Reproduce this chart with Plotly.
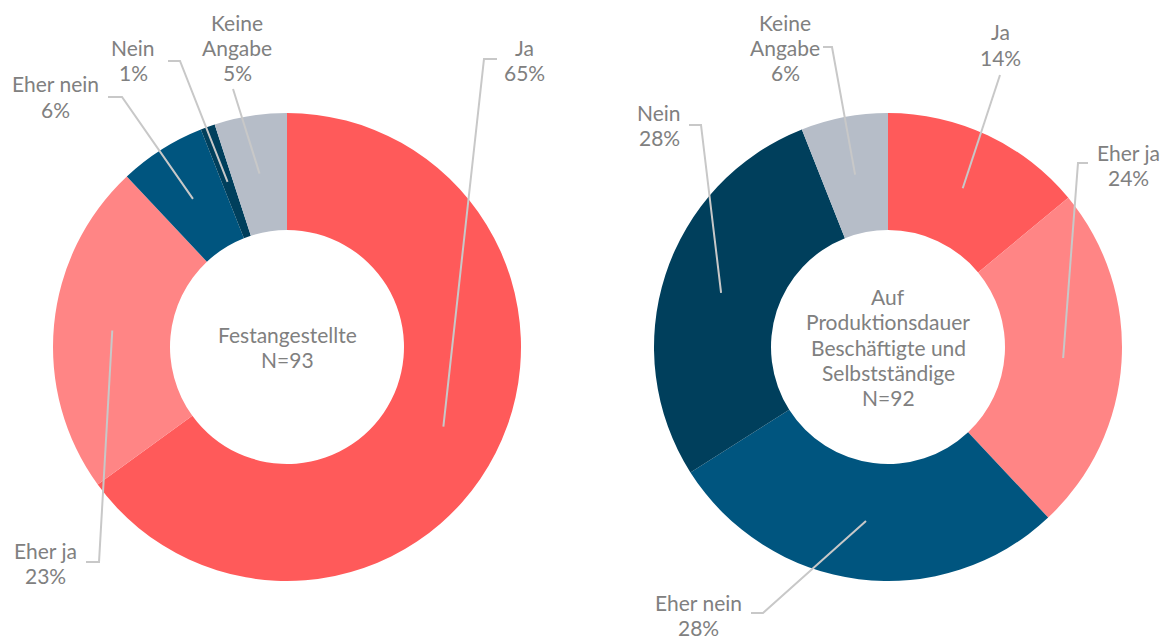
import math
import plotly.graph_objects as go

W, H = 1166, 637

# Answer categories (clockwise from 12 o'clock)
categories = ["Ja", "Eher ja", "Eher nein", "Nein", "Keine Angabe"]
label_lines = [["Ja"], ["Eher ja"], ["Eher nein"], ["Nein"], ["Keine", "Angabe"]]

# Shares in percent
festangestellte = [65, 23, 6, 1, 5]
produktionsdauer = [14, 24, 28, 28, 6]

center_titles = [
    ["Festangestellte", "N=93"],
    ["Auf", "Produktionsdauer", "Beschäftigte und", "Selbstständige", "N=92"],
]

colors = ["#FF5A5A", "#FF8585", "#00557F", "#003F5C", "#B6BDC8"]
text_color = "#808080"
line_color = "#C8C8C8"
FONT = "Lato, 'Open Sans', sans-serif"
FONT_SIZE = 21
LINE_H = 25.3

# Donut geometry in pixels: centre x, centre y, outer radius
donuts = [
    dict(cx=287, cy=347, r=234, values=festangestellte),
    dict(cx=888, cy=347, r=234, values=produktionsdauer),
]

# Label placement per donut and slice: (label centre x, first line y, elbow points)
label_layout = [
    [
        (524, 47, [(484, 59), (497, 59)]),
        (45, 550, [(99, 562), (86, 562)]),
        (55, 84, [(122, 97), (108, 97)]),
        (133, 47, [(180, 61), (168, 61)]),
        (237, 22, [(233, 89)]),
    ],
    [
        (1000, 32, [(1000, 75)]),
        (1128, 152, [(1078, 163), (1088, 163)]),
        (698, 602, [(763, 613), (751, 613)]),
        (659, 112, [(701, 125), (689, 125)]),
        (785, 22, [(832, 47), (823, 47)]),
    ],
]


def px(x, y):
    return x / W, 1 - y / H


def text_block(lines, cx, first_y):
    out = []
    for i, line in enumerate(lines):
        ax, ay = px(cx, first_y + i * LINE_H)
        out.append(dict(
            x=ax, y=ay, xref="paper", yref="paper", text=line,
            showarrow=False, xanchor="center", yanchor="middle",
            font=dict(family=FONT, size=FONT_SIZE, color=text_color),
        ))
    return out


fig = go.Figure()
shapes = []
annotations = []

for d, layout_rows, title in zip(donuts, label_layout, center_titles):
    cx, cy, r = d["cx"], d["cy"], d["r"]
    x0, y1 = px(cx - r, cy - r)
    x1, y0 = px(cx + r, cy + r)
    fig.add_trace(go.Pie(
        labels=categories,
        values=d["values"],
        hole=0.5,
        sort=False,
        direction="clockwise",
        rotation=0,
        textinfo="none",
        hoverinfo="label+percent",
        marker=dict(colors=colors, line=dict(width=0)),
        domain=dict(x=[x0, x1], y=[y0, y1]),
        showlegend=False,
    ))

    # centre caption, vertically centred on the hole
    first = cy - (len(title) - 1) * LINE_H / 2
    annotations += text_block(title, cx, first)

    total = sum(d["values"])
    cum = 0
    for val, lab, (lx, ly, elbow) in zip(d["values"], label_lines, layout_rows):
        mid = (cum + val / 2) / total * 2 * math.pi
        cum += val
        sx = cx + 0.75 * r * math.sin(mid)
        sy = cy - 0.75 * r * math.cos(mid)
        pts = [(sx, sy)] + elbow
        path = "M " + " L ".join(
            f"{px(a, b)[0]:.5f},{px(a, b)[1]:.5f}" for a, b in pts)
        shapes.append(dict(type="path", path=path, xref="paper", yref="paper",
                           line=dict(color=line_color, width=2)))
        annotations += text_block(lab + [f"{val}%"], lx, ly)

fig.update_layout(
    width=W, height=H,
    margin=dict(l=0, r=0, t=0, b=0),
    paper_bgcolor="white", plot_bgcolor="white",
    shapes=shapes, annotations=annotations,
)

fig.write_html("out.html")
